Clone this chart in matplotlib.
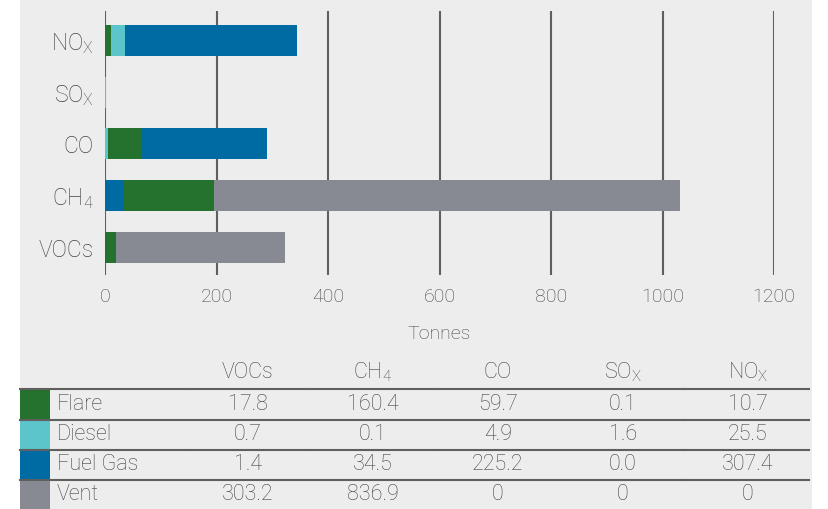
import matplotlib
matplotlib.use('Agg')
import matplotlib.pyplot as plt
from matplotlib.patches import Rectangle
from matplotlib.lines import Line2D

plt.rcParams['font.family'] = ['Roboto', 'DejaVu Sans']
plt.rcParams['font.weight'] = 'light'
plt.rcParams['axes.labelweight'] = 'light'
plt.rcParams['mathtext.fontset'] = 'custom'
plt.rcParams['mathtext.rm'] = 'Roboto:light'
plt.rcParams['mathtext.it'] = 'Roboto:light'

# emissions by pollutant (tonnes)
pollutants = ['VOCs', 'CH$_4$', 'CO', 'SO$_\\mathrm{X}$', 'NO$_\\mathrm{X}$']
sources = ['Flare', 'Diesel', 'Fuel Gas', 'Vent']
flare = [17.8, 160.4, 59.7, 0.1, 10.7]
diesel = [0.7, 0.1, 4.9, 1.6, 25.5]
fuel_gas = [1.4, 34.5, 225.2, 0.0, 307.4]
vent = [303.2, 836.9, 0, 0, 0]
source_values = [flare, diesel, fuel_gas, vent]
colors = ['#25722e', '#5bc5cb', '#006ba3', '#878a92']
x_ticks = [0, 200, 400, 600, 800, 1000, 1200]

W, H = 829, 509
TEXT = '#444444'


def fx(x):
    return x / W


def fy(y):
    return 1 - y / H


fig = plt.figure(figsize=(W / 100, H / 100), dpi=100, facecolor='white')
fig.patches.append(Rectangle((fx(20), 0), fx(812) - fx(20), 1, transform=fig.transFigure,
                             facecolor='#ededed', edgecolor='none', zorder=-10))

ax = fig.add_axes([fx(105), fy(275), fx(774) - fx(105), (275 - 11) / H])
ax.set_facecolor('none')
for s in ax.spines.values():
    s.set_visible(False)

# each bar is stacked smallest segment first
for j in range(len(pollutants)):
    order = sorted(range(len(sources)), key=lambda i: source_values[i][j])
    left = 0
    for i in order:
        v = source_values[i][j]
        ax.barh(j, v, left=left, height=0.6, color=colors[i], zorder=3)
        left += v

ax.set_xlim(0, 1200)
ax.set_ylim(-0.53, 4.567)
ax.set_xticks(x_ticks)
ax.set_xticklabels([str(t) for t in x_ticks])
ax.set_yticks(range(len(pollutants)))
ax.set_yticklabels(pollutants)
ax.grid(axis='x', color='#5f5f5f', linewidth=1.5, zorder=1)
ax.tick_params(axis='both', length=0, colors=TEXT)
ax.tick_params(axis='x', pad=9, labelsize=14)
ax.tick_params(axis='y', pad=8, labelsize=16.5)
ax.set_xlabel('Tonnes', fontsize=14, color=TEXT, va='center')
ax.xaxis.set_label_coords(0.5, -(334 - 275) / 264)

# data table below the chart
col_x = [248, 373, 498, 623, 748]
col_edges = [20, 185, 310, 435, 560, 685, 810]
header_y = 372
row_y = [404, 435, 465, 494]
line_y = [389, 420, 450, 480]
row_bottom = [420, 450, 480, 509]
TFS = 15.5

for name, cx in zip(pollutants, col_x):
    fig.text(fx(cx), fy(header_y), name, ha='center', va='center', fontsize=TFS, color=TEXT)

for i, src in enumerate(sources):
    fig.patches.append(Rectangle((fx(20), fy(row_bottom[i])), fx(50) - fx(20),
                                 (row_bottom[i] - line_y[i]) / H, transform=fig.transFigure,
                                 facecolor=colors[i], edgecolor='none', zorder=1))
    for a, b in zip(col_edges[:-1], col_edges[1:]):
        fig.lines.append(Line2D([fx(a + 0.5), fx(b - 0.5)], [fy(line_y[i])] * 2,
                                transform=fig.transFigure, color='#5f5f5f', linewidth=1.5, zorder=2))
    fig.text(fx(57), fy(row_y[i]), src, ha='left', va='center', fontsize=TFS, color=TEXT)
    for v, cx in zip(source_values[i], col_x):
        label = str(v) if isinstance(v, int) else f'{v:.1f}'
        fig.text(fx(cx), fy(row_y[i]), label, ha='center', va='center', fontsize=TFS, color=TEXT)

fig.savefig('out.png', dpi=100, facecolor='white')
